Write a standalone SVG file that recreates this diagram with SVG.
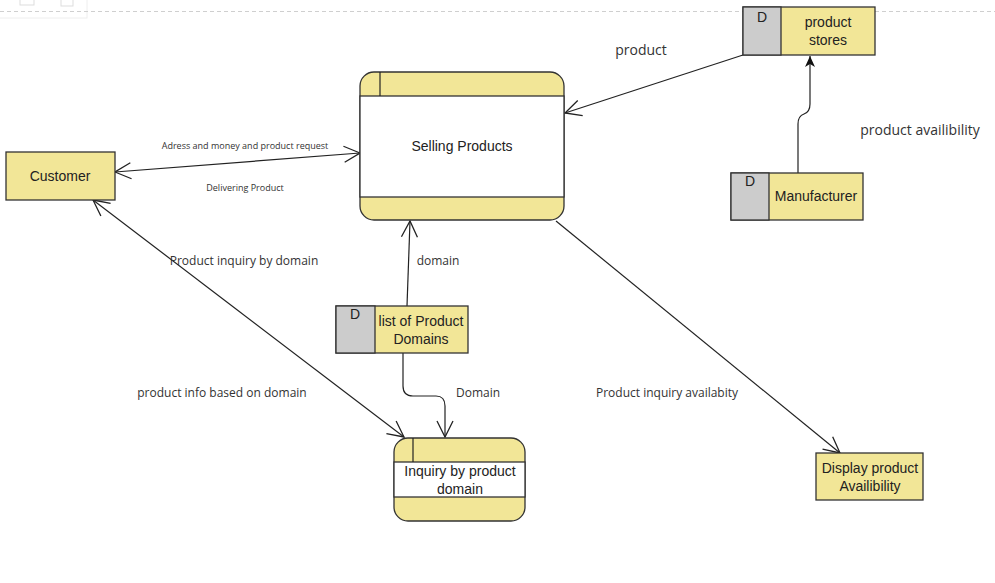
<svg xmlns="http://www.w3.org/2000/svg" width="995" height="583" viewBox="0 0 995 583">
<style>
.node{fill:#f2e697;stroke:#333;stroke-width:1.3}
.gray{fill:#cccccc;stroke:#333;stroke-width:1.3}
.white{fill:#ffffff;stroke:#333;stroke-width:1.3}
.ln{fill:none;stroke:#222;stroke-width:1.2}
.nt{font-family:"Liberation Sans",Arial,sans-serif;font-size:14px;fill:#222;text-anchor:middle}
.lb{font-family:"Open Sans","Noto Sans",sans-serif;font-size:12px;fill:#333;text-anchor:middle}
.sm{font-family:"Open Sans","Noto Sans",sans-serif;font-size:9px;fill:#333;text-anchor:middle}
.big{font-family:"Open Sans","Noto Sans",sans-serif;font-size:14px;fill:#333;text-anchor:middle}
</style>
<defs>
<marker id="open" viewBox="0 0 20 20" refX="18" refY="10" markerWidth="20" markerHeight="20" markerUnits="userSpaceOnUse" orient="auto-start-reverse">
<path d="M2,2 L18,10 L2,18" fill="none" stroke="#222" stroke-width="1.3"/>
</marker>
<marker id="fill" viewBox="0 0 12 12" refX="11" refY="6" markerWidth="12" markerHeight="12" markerUnits="userSpaceOnUse" orient="auto">
<path d="M0,1 L11,6 L0,11 L3,6 Z" fill="#111"/>
</marker>
</defs>
<rect width="995" height="583" fill="#ffffff"/>
<g id="toolbar">
<rect x="-1" y="-1" width="88" height="19" fill="#ffffff" stroke="#eeeeee"/>
<rect x="20" y="-1" width="14" height="6" fill="none" stroke="#dddddd"/>
<rect x="61" y="-1" width="12" height="7" fill="none" stroke="#dddddd"/>
</g>
<line x1="0" y1="11.5" x2="995" y2="11.5" stroke="#cfcfcf" stroke-width="1" stroke-dasharray="4,3"/>

<g id="connectors">
<line class="ln" x1="115" y1="172" x2="360" y2="153" marker-start="url(#open)" marker-end="url(#open)" stroke-width="1.4"/>
<line class="ln" x1="743" y1="55" x2="565" y2="113" marker-end="url(#open)"/>
<path class="ln" d="M798,173 L798,124 Q798,116 804,114 Q810,112 810,104 L810,56" marker-end="url(#fill)" stroke-width="1.4"/>
<line class="ln" x1="93" y1="200" x2="404" y2="437" marker-start="url(#open)" marker-end="url(#open)" stroke="#111" stroke-width="1.7"/>
<line class="ln" x1="407" y1="306" x2="410" y2="221" marker-end="url(#open)"/>
<path class="ln" d="M403,353 L403,386 Q403,396 413,396 L436,396 Q445,396 445,406 L445,437" marker-end="url(#open)"/>
<line class="ln" x1="556" y1="221" x2="840" y2="453" marker-end="url(#open)"/>
<text class="sm" x="245" y="149">Adress and money and product request</text>
<text class="sm" x="245" y="191">Delivering Product</text>
<text class="big" x="641" y="55">product</text>
<text class="big" x="920" y="135">product availibility</text>
<text class="lb" x="244" y="265">Product inquiry by domain</text>
<text class="lb" x="222" y="397">product info based on domain</text>
<text class="lb" x="438" y="265">domain</text>
<text class="lb" x="478" y="397">Domain</text>
<text class="lb" x="667" y="397">Product inquiry availabity</text>
</g>

<g id="selling-products">
<rect class="node" x="360" y="72" width="204" height="148" rx="14"/>
<rect class="white" x="360" y="96" width="204" height="101"/>
<line class="ln" x1="380" y1="72" x2="380" y2="96" stroke="#333"/>
<text class="nt" x="462" y="151">Selling Products</text>
</g>

<g id="product-stores">
<rect class="node" x="743" y="7" width="132" height="48"/>
<rect class="gray" x="743" y="7" width="38" height="48"/>
<text class="nt" x="762" y="22">D</text>
<text class="nt" x="828" y="27">product</text>
<text class="nt" x="828" y="45">stores</text>
</g>

<g id="manufacturer">
<rect class="node" x="731" y="173" width="132" height="47"/>
<rect class="gray" x="731" y="173" width="38" height="47"/>
<text class="nt" x="750" y="186">D</text>
<text class="nt" x="816" y="201">Manufacturer</text>
</g>

<g id="customer">
<rect class="node" x="6" y="152" width="109" height="48"/>
<text class="nt" x="60" y="181">Customer</text>
</g>

<g id="list-of-product-domains">
<rect class="node" x="336" y="306" width="132" height="47"/>
<rect class="gray" x="336" y="306" width="39" height="47"/>
<text class="nt" x="355" y="319">D</text>
<text class="nt" x="421" y="326">list of Product</text>
<text class="nt" x="421" y="344">Domains</text>
</g>

<g id="inquiry-by-product-domain">
<rect class="node" x="394" y="438" width="131" height="83" rx="14"/>
<rect class="white" x="394" y="462" width="131" height="35"/>
<line class="ln" x1="413" y1="438" x2="413" y2="462" stroke="#333"/>
<text class="nt" x="460" y="476">Inquiry by product</text>
<text class="nt" x="460" y="494">domain</text>
</g>

<g id="display-product-availibility">
<rect class="node" x="816" y="453" width="107" height="47"/>
<text class="nt" x="870" y="473">Display product</text>
<text class="nt" x="870" y="491">Availibility</text>
</g>
</svg>
